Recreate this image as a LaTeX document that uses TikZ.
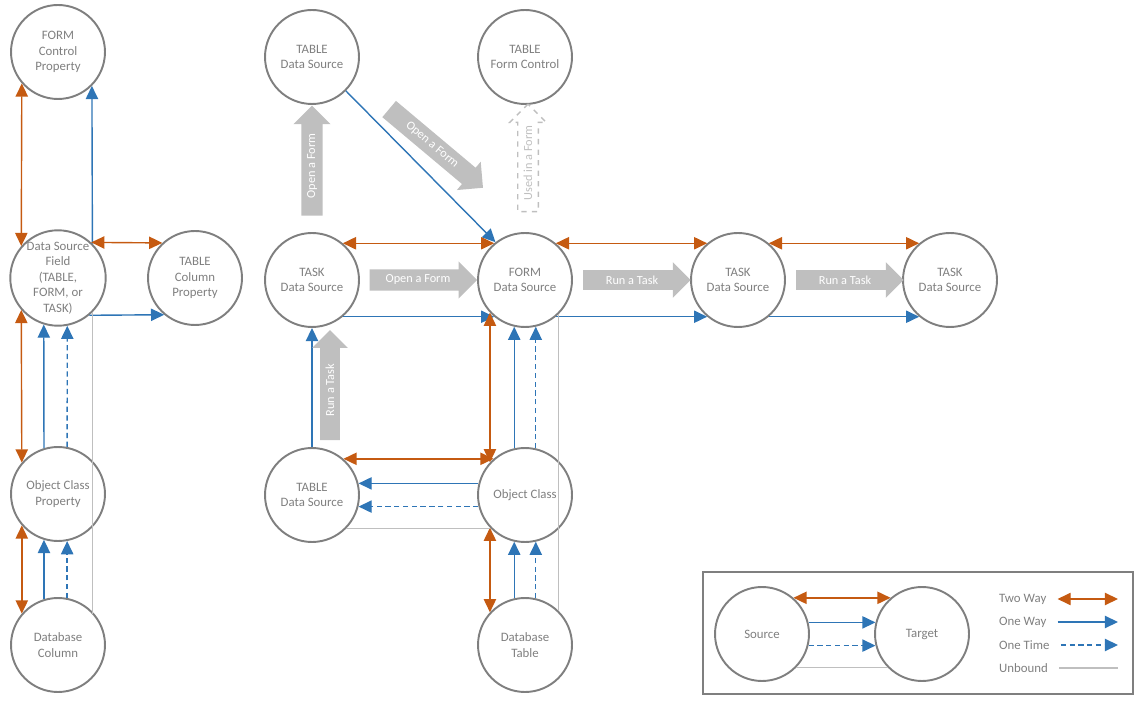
\documentclass[tikz,border=0pt]{standalone}
\usepackage{fontspec}
\setmainfont{Carlito}
\usetikzlibrary{arrows.meta,shapes.arrows,calc}
\definecolor{org}{HTML}{C55A11}
\definecolor{blu}{HTML}{2E75B6}
\definecolor{cgr}{HTML}{7F7F7F}
\definecolor{blk}{HTML}{BFBFBF}
\begin{document}
\begin{tikzpicture}[x=0.02cm,y=-0.02cm,
 c/.style={circle,draw=cgr,line width=1.1pt,minimum size=1.88cm,inner sep=0pt,align=center,text=cgr,font=\fontsize{7.3}{8.8}\selectfont},
 two/.style={org,line width=0.8pt,{Triangle[length=7.5pt,width=7pt]}-{Triangle[length=7.5pt,width=7pt]}},
 one/.style={blu,line width=0.8pt,-{Triangle[length=7.5pt,width=7pt]}},
 once/.style={one,dash pattern=on 3pt off 2pt},
 unb/.style={blk,line width=0.6pt},
 ba/.style={single arrow,fill=blk,text=white,inner sep=3pt,single arrow head extend=4.5pt,minimum height=#1,font=\fontsize{7}{8}\selectfont},
]
\useasboundingbox (0,0) rectangle (1145,705);
% nodes
\node[c] (F) at (58,52) {FORM\\Control\\Property};
\node[c] (D) at (58,278) {Data Source\\Field\\(TABLE,\\FORM, or\\TASK)};
\node[c] (C) at (195,278) {TABLE\\Column\\Property};
\node[c] (O) at (58,494) {Object Class\\Property};
\node[c] (B) at (58,645) {Database\\Column};
\node[c] (T1) at (312,57) {TABLE\\Data Source};
\node[c] (TF) at (525,57) {TABLE\\Form Control};
\node[c] (TK) at (312,280) {TASK\\Data Source};
\node[c] (FD) at (525,280) {FORM\\Data Source};
\node[c] (TK2) at (738,280) {TASK\\Data Source};
\node[c] (TK3) at (950,280) {TASK\\Data Source};
\node[c] (TB) at (312,495) {TABLE\\Data Source};
\node[c] (OC) at (525,495) {Object Class};
\node[c] (DT) at (525,645) {Database\\Table};
% left column
\draw[two] (F.221) -- (D.139);
\draw[one] (D.45) -- (F.-45);
\draw[two] (D.47) -- (C.133);
\draw[one] (D.-50) -- (C.-130);
\draw[two] (D.221) -- (O.139);
\draw[one] (O.107) -- (D.253);
\draw[once] (O.79) -- (D.281);
\draw[two] (O.221) -- (B.139);
\draw[one] (B.107) -- (O.253);
\draw[once] (B.79) -- (O.281);
\draw[unb] (D.-45) -- (D.-45 |- B.40);
% middle
\draw[one] (T1.-45) -- (FD.128);
\draw[two] (TK.50) -- (FD.130);
\draw[one] (TK.-50) -- (FD.-130);
\draw[two] (FD.50) -- (TK2.130);
\draw[one] (FD.-50) -- (TK2.-130);
\draw[two] (TK2.50) -- (TK3.130);
\draw[one] (TK2.-50) -- (TK3.-130);
\draw[two] (FD.223) -- (OC.137);
\draw[one] (OC.103) -- (FD.257);
\draw[once] (OC.77) -- (FD.283);
\draw[one] (TB.north) -- (TK.south);
\draw[two] (TB.49) -- (OC.131);
\draw[one] (OC.166) -- (TB.14);
\draw[once] (OC.194) -- (TB.-14);
\draw[two] (OC.223) -- (DT.137);
\draw[one] (DT.103) -- (OC.257);
\draw[once] (DT.77) -- (OC.283);
\draw[unb] (TB.-45) -- (TB.-45 -| OC.223);
\draw[unb] (FD.-45) -- (FD.-45 |- DT.45);
% block arrows
\node[ba=2.2cm,rotate=90] (a1) at (312,166) {Open a Form};
\node[ba=2.45cm,rotate=-40] (a2) at (432,145) {Open a Form};
\node[single arrow,draw=blk,dashed,line width=0.8pt,text=blk,inner sep=3pt,single arrow head extend=4.5pt,minimum height=2.15cm,rotate=90,font=\fontsize{7}{8}\selectfont] (a3) at (528,163) {Used in a Form};
\node[ba=2.15cm] (a4) at (418,280) {Open a Form};
\node[ba=2.15cm] (a5) at (632,280) {Run a Task};
\node[ba=2.15cm] (a6) at (845,280) {Run a Task};
\node[ba=2.2cm,rotate=90] (a7) at (330,390) {Run a Task};
% legend
\draw[cgr,line width=0.6pt] (703,572) rectangle (1133,694);
\node[c] (S) at (762,634) {Source};
\node[c] (T) at (922,634) {Target};
\draw[two] (S.49) -- (T.131);
\draw[one] (S.14) -- (T.166);
\draw[once] (S.-14) -- (T.194);
\draw[unb] (S.-45) -- (T.225);
\tikzset{lt/.style={text=cgr,anchor=west,font=\fontsize{7.3}{8}\selectfont}}
\node[lt] (l1) at (993,599) {Two Way};
\node[lt] (l2) at (993,622) {One Way};
\node[lt] (l3) at (993,645) {One Time};
\node[lt] (l4) at (993,668) {Unbound};
\coordinate (e1) at (1118,599); \coordinate (e2) at (1118,622);
\coordinate (e3) at (1118,645); \coordinate (e4) at (1118,668);
\draw[two] (l1.east) ++(5,0) coordinate (s1) -- (e1);
\draw[one] (l2.east) ++(5,0) coordinate (s2) -- (e2);
\draw[once] (l3.east) ++(5,0) coordinate (s3) -- (e3);
\draw[unb] (l4.east) ++(5,0) coordinate (s4) -- (e4);
\end{tikzpicture}
\end{document}
